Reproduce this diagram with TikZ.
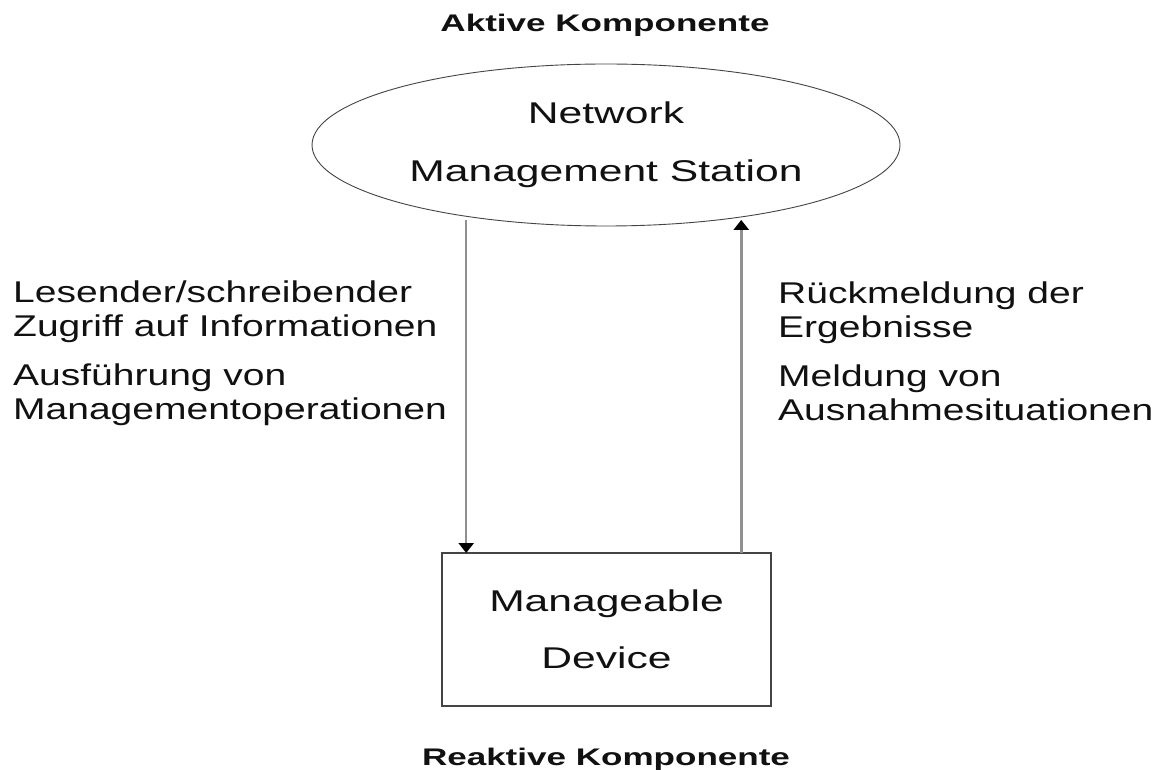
\documentclass[tikz,border=0pt]{standalone}
\usepackage{fontspec}
\setmainfont{Liberation Sans}
\newfontfamily\labelfont[FakeStretch=1.30]{Liberation Sans}
\newfontfamily\boxfont[FakeStretch=1.42]{Liberation Sans}
\newfontfamily\titlefont[FakeStretch=1.46]{Liberation Sans}
\usetikzlibrary{shapes.geometric,arrows.meta}
\definecolor{ink}{HTML}{111111}
\definecolor{rim}{HTML}{444444}
\definecolor{shaft}{HTML}{909090}
\begin{document}
\begin{tikzpicture}[x=1pt,y=1pt,
  every node/.style={text=ink},
  station/.style={ellipse,draw=rim,line width=0.9pt,inner sep=0pt,outer sep=0pt,
    minimum width=588pt,minimum height=162pt,align=center,
    font=\boxfont\fontsize{30}{58}\selectfont},
  devicebox/.style={rectangle,draw=rim,line width=1.4pt,inner sep=0pt,outer sep=0pt,
    minimum width=329pt,minimum height=153pt,align=center,
    font=\boxfont\fontsize{30}{57}\selectfont},
  sidetext/.style={anchor=base west,inner sep=0pt,align=left,
    font=\labelfont\fontsize{30}{34}\selectfont},
  heading/.style={anchor=base,inner sep=0pt,
    font=\titlefont\bfseries\fontsize{24}{28}\selectfont},
  flow/.style={draw=shaft,line width=2.6pt,
    -{Triangle[width=15pt,length=10pt,color=black]}}]
  \fill[white] (0,0) rectangle (1153,769);
  \useasboundingbox (0,0) rectangle (1153,769);

  % components
  \node[station] (nms) at (606,624) {Network\\Management Station};
  \node[devicebox] (dev) at (606.5,139.5) {Manageable\\Device};

  % headings
  \node[heading] (active) at (605,737) {Aktive Komponente};
  \node[heading] (reactive) at (606,4) {Reaktive Komponente};

  % request and response flows
  \draw[flow] ([yshift=-4pt]nms.207.2) -- (nms.207.2 |- dev.north);
  \draw[flow] (nms.332.4 |- dev.north) -- ([yshift=-3pt]nms.332.4);

  % flow descriptions
  \node[sidetext] (readwrite) at (13,432) {Lesender/schreibender\\Zugriff auf Informationen};
  \node[sidetext] (execute) at (13,349) {Ausführung von\\Managementoperationen};
  \node[sidetext] (results) at (778,431) {Rückmeldung der\\Ergebnisse};
  \node[sidetext] (exceptions) at (778,348) {Meldung von\\Ausnahmesituationen};
\end{tikzpicture}
\end{document}
